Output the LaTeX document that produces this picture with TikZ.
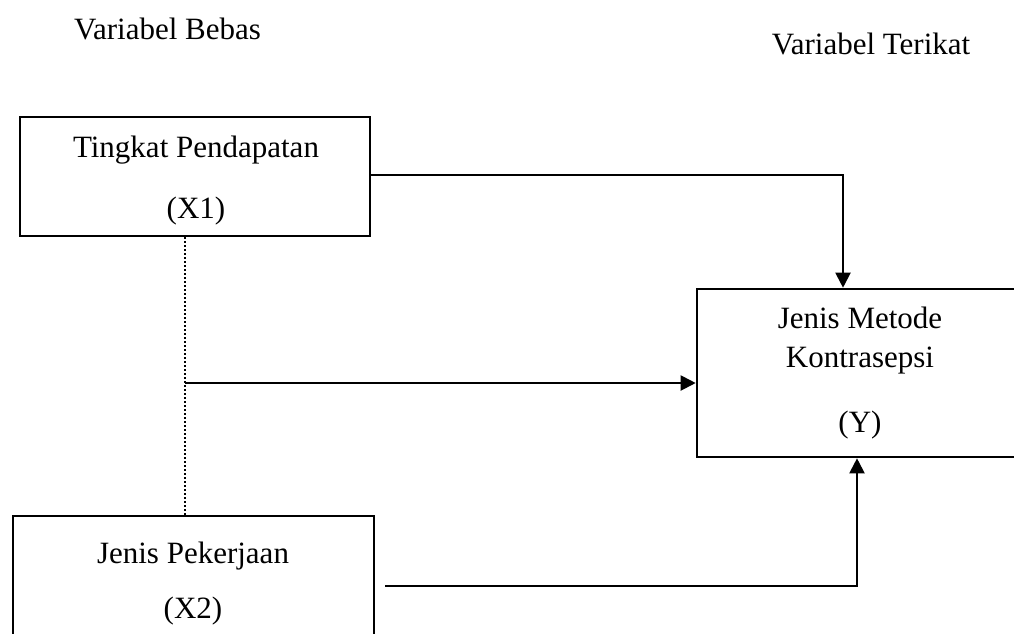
\documentclass[tikz,border=0pt]{standalone}
\usepackage{fontspec}
\setmainfont{Liberation Serif}
\usetikzlibrary{arrows.meta}
\begin{document}
\begin{tikzpicture}[x=1pt,y=-1pt,
  box/.style={draw=black,line width=2.6pt,inner sep=0pt},
  lbl/.style={anchor=base,inner sep=0pt,font=\fontsize{31}{37}\selectfont},
  conn/.style={draw=black,line width=2pt},
  arr/.style={conn,-{Triangle[length=15pt,width=15pt]}},
  dot/.style={draw=black,line width=2pt,dash pattern=on 2pt off 2pt}]
\useasboundingbox (0,0) rectangle (1014,633);
% boxes
\node[box,minimum width=350pt,minimum height=119pt] (x1) at (195,176.5) {};
\node[box,minimum width=361pt,minimum height=140pt] (x2) at (193.5,586) {};
\node[box,minimum width=340pt,minimum height=168pt] (y) at (867,373) {};
% titles
\node[lbl] (tb) at (167.5,39) {Variabel Bebas};
\node[lbl] (tt) at (871,54) {Variabel Terikat};
% box texts
\node[lbl] (x1a) at (196,157) {Tingkat Pendapatan};
\node[lbl] (x1b) at (196,218) {(X1)};
\node[lbl] (x2a) at (193,563) {Jenis Pekerjaan};
\node[lbl] (x2b) at (193,618) {(X2)};
\node[lbl] (ya) at (860,328) {Jenis Metode};
\node[lbl] (yb) at (860,367) {Kontrasepsi};
\node[lbl] (yc) at (860,432) {(Y)};
% connector coordinates
\coordinate (d1) at (185,237);
\coordinate (d2) at (185,515);
\coordinate (mid) at (185,383);
\coordinate (c1) at (843,175);
\coordinate (s2) at (385,586);
\coordinate (c2) at (857,586);
% dotted link
\draw[dot] (d1) -- (d2);
% arrows
\draw[arr] (x1.east |- c1) -- (c1) -- (c1 |- y.north);
\draw[arr] (mid) -- (mid -| y.west);
\draw[arr] (s2) -- (c2) -- (c2 |- y.south);
\end{tikzpicture}
\end{document}
